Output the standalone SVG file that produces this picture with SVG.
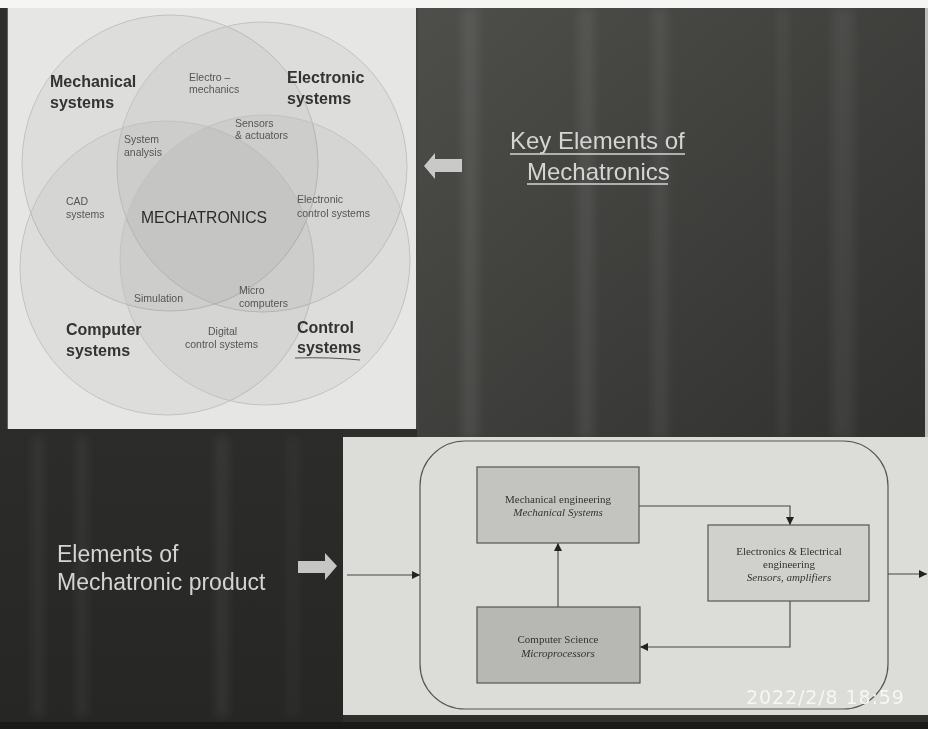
<svg xmlns="http://www.w3.org/2000/svg" width="928" height="729" viewBox="0 0 928 729">
<style>
.sans{font-family:"Liberation Sans",Arial,sans-serif}
.big{font-family:"Liberation Sans",Arial,sans-serif;font-size:16px;font-weight:bold;fill:#333}
.small{font-family:"Liberation Sans",Arial,sans-serif;font-size:10.5px;fill:#555}
.serif{font-family:"Liberation Serif","Times New Roman",serif;font-size:11px;fill:#333;text-anchor:middle}
.it{font-style:italic}
.circ{fill:#000;fill-opacity:0.035;stroke:#c2c2c0;stroke-width:1}
.box{stroke:#555;stroke-width:1.2}
.conn{fill:none;stroke:#444;stroke-width:1.1}
.slide{font-family:"Liberation Sans",Arial,sans-serif;fill:#d4d4d2}
.streak{fill:#fff}
</style>
<defs>
<marker id="ah" viewBox="0 0 10 10" refX="10" refY="5" markerWidth="10" markerHeight="8" markerUnits="userSpaceOnUse" orient="auto">
<path d="M0,0 L10,5 L0,10 Z" fill="#222"/>
</marker>
<filter id="blur" x="-50%" y="-5%" width="200%" height="110%"><feGaussianBlur stdDeviation="5"/></filter>
<linearGradient id="bgTop" x1="0" y1="0" x2="1" y2="1">
<stop offset="0" stop-color="#4e4e4b"/>
<stop offset="1" stop-color="#30302e"/>
</linearGradient>
<linearGradient id="bgBot" x1="0" y1="0" x2="0" y2="1">
<stop offset="0" stop-color="#2c2c2a"/>
<stop offset="1" stop-color="#262624"/>
</linearGradient>
</defs>

<!-- dark slide background -->
<rect x="0" y="0" width="928" height="729" fill="#2e2e2c"/>
<rect x="417" y="8" width="511" height="430" fill="url(#bgTop)"/>
<rect x="0" y="429" width="343" height="300" fill="url(#bgBot)"/>
<g filter="url(#blur)">
<rect class="streak" x="462" y="8" width="16" height="430" opacity="0.08"/>
<rect class="streak" x="578" y="8" width="16" height="430" opacity="0.07"/>
<rect class="streak" x="652" y="8" width="16" height="430" opacity="0.06"/>
<rect class="streak" x="778" y="8" width="10" height="430" opacity="0.05"/>
<rect class="streak" x="832" y="8" width="22" height="430" opacity="0.06"/>
<rect class="streak" x="32" y="437" width="12" height="280" opacity="0.05"/>
<rect class="streak" x="76" y="437" width="12" height="280" opacity="0.05"/>
<rect class="streak" x="215" y="437" width="14" height="280" opacity="0.06"/>
<rect class="streak" x="288" y="437" width="10" height="280" opacity="0.04"/>
</g>
<rect x="0" y="0" width="928" height="8" fill="#f5f5f3"/>
<rect x="0" y="722" width="928" height="7" fill="#1a1a19"/>
<rect x="925" y="8" width="3" height="430" fill="#bdbdbb"/>

<!-- top-left Venn panel -->
<g id="venn-panel">
<rect x="7" y="8" width="410" height="421" fill="#e6e6e4"/>
<line x1="417" y1="8" x2="417" y2="429" stroke="#444" stroke-width="2"/>
<line x1="7" y1="8" x2="7" y2="429" stroke="#333" stroke-width="1.5"/>
<g id="circles">
<circle id="c-mech" class="circ" cx="170" cy="163" r="148"/>
<circle id="c-elec" class="circ" cx="262" cy="167" r="145"/>
<circle id="c-comp" class="circ" cx="167" cy="268" r="147"/>
<circle id="c-ctrl" class="circ" cx="265" cy="260" r="145"/>
</g>
<g id="venn-labels">
<text class="big" x="50" y="87">Mechanical</text>
<text class="big" x="50" y="108">systems</text>
<text class="big" x="287" y="83">Electronic</text>
<text class="big" x="287" y="104">systems</text>
<text class="big" x="66" y="335">Computer</text>
<text class="big" x="66" y="356">systems</text>
<text class="big" x="297" y="333">Control</text>
<text class="big" x="297" y="353">systems</text>
<path d="M295,358 Q330,357 360,360" fill="none" stroke="#555" stroke-width="1"/>
<text class="small" x="189" y="81">Electro –</text>
<text class="small" x="189" y="93">mechanics</text>
<text class="small" x="235" y="127">Sensors</text>
<text class="small" x="235" y="139">&amp; actuators</text>
<text class="small" x="124" y="143">System</text>
<text class="small" x="124" y="156">analysis</text>
<text class="small" x="66" y="205">CAD</text>
<text class="small" x="66" y="218">systems</text>
<text class="sans" x="141" y="223" font-size="15.7" fill="#2a2a2a">MECHATRONICS</text>
<text class="small" x="297" y="203">Electronic</text>
<text class="small" x="297" y="217">control systems</text>
<text class="small" x="134" y="302">Simulation</text>
<text class="small" x="239" y="294">Micro</text>
<text class="small" x="239" y="307">computers</text>
<text class="small" x="208" y="335">Digital</text>
<text class="small" x="185" y="348">control systems</text>
</g>
</g>

<!-- top-right title -->
<g id="key-title">
<path d="M424,166 L435,153 L435,159 L462,159 L462,172 L435,172 L435,179 Z" fill="#c9c9c7"/>
<text class="slide" x="510" y="149" font-size="24">Key Elements of</text>
<line x1="510" y1="154" x2="685" y2="154" stroke="#d4d4d2" stroke-width="1.5"/>
<text class="slide" x="527" y="180" font-size="24">Mechatronics</text>
<line x1="527" y1="184" x2="668" y2="184" stroke="#d4d4d2" stroke-width="1.5"/>
</g>

<!-- bottom-left caption -->
<g id="product-title">
<text class="slide" x="57" y="562" font-size="23" fill="#c8c8c6">Elements of</text>
<text class="slide" x="57" y="590" font-size="23" fill="#c8c8c6">Mechatronic product</text>
<path d="M298,561 L325,561 L325,553 L337,566 L325,580 L325,573 L298,573 Z" fill="#c6c6c4"/>
</g>

<!-- bottom-right block diagram -->
<g id="block-panel">
<rect x="343" y="437" width="585" height="278" fill="#dcdcd9"/>
<rect id="system-boundary" x="420" y="441" width="468" height="268" rx="45" ry="45" fill="none" stroke="#555" stroke-width="1.2"/>
</g>
<g id="connectors">
<path class="conn" d="M347,575 H420" marker-end="url(#ah)"/>
<path class="conn" d="M888,574 H927" marker-end="url(#ah)"/>
<path class="conn" d="M639,506 H790 V525" marker-end="url(#ah)"/>
<path class="conn" d="M790,601 V647 H640" marker-end="url(#ah)"/>
<path class="conn" d="M558,607 V543" marker-end="url(#ah)"/>
</g>
<g id="node-mech">
<rect class="box" x="477" y="467" width="162" height="76" fill="#c3c3c0"/>
<text class="serif" x="558" y="503">Mechanical engineering</text>
<text class="serif it" x="558" y="516">Mechanical Systems</text>
</g>
<g id="node-elec">
<rect class="box" x="708" y="525" width="161" height="76" fill="#d0d0cd"/>
<text class="serif" x="789" y="555">Electronics &amp; Electrical</text>
<text class="serif" x="789" y="568">engineering</text>
<text class="serif it" x="789" y="581">Sensors, amplifiers</text>
</g>
<g id="node-cs">
<rect class="box" x="477" y="607" width="163" height="76" fill="#b7b7b4"/>
<text class="serif" x="558" y="643">Computer Science</text>
<text class="serif it" x="558" y="657">Microprocessors</text>
</g>
<text x="746" y="704" font-family="DejaVu Sans,sans-serif" font-size="19" letter-spacing="0.9" fill="#f6f6f4">2022/2/8 18:59</text>
</svg>
